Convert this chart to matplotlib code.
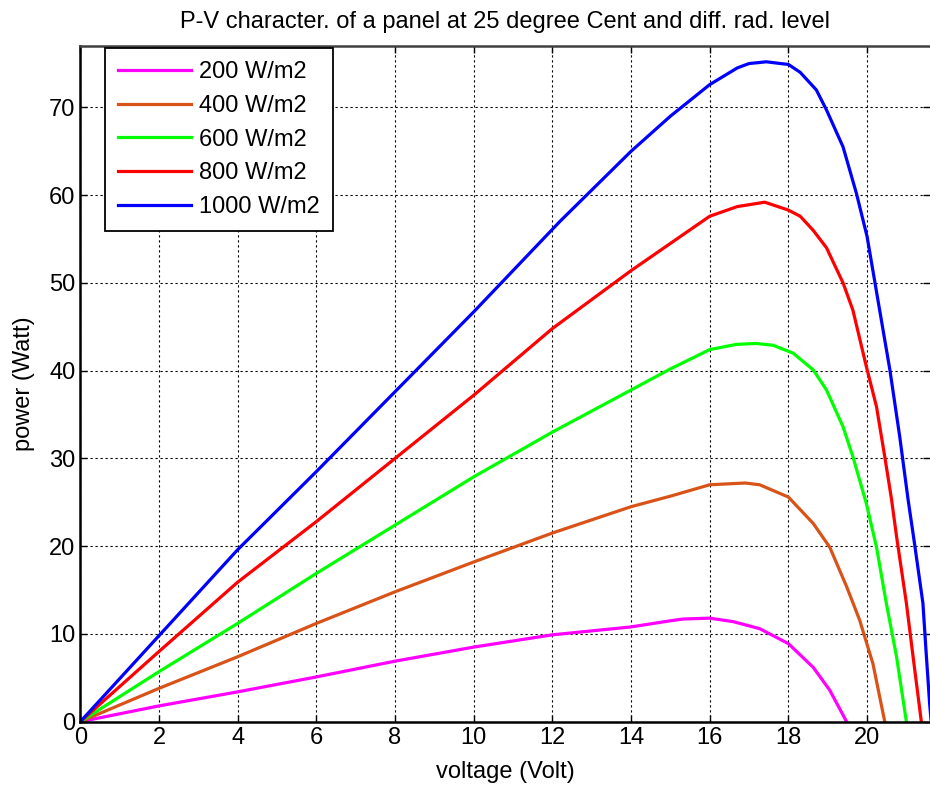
import matplotlib
matplotlib.use("Agg")
import matplotlib.pyplot as plt

# values
v_200 = [0, 2, 4, 6, 8, 10, 12, 14, 15, 15.32, 16, 16.6, 17.27, 18, 18.63, 19.05, 19.48]
p_200 = [0, 1.8, 3.4, 5.1, 6.9, 8.5, 9.9, 10.8, 11.5, 11.7, 11.8, 11.4, 10.6, 8.9, 6.2, 3.6, 0]

v_400 = [0, 2, 4, 6, 8, 10, 12, 14, 15, 16, 16.9, 17.27, 18, 18.63, 19.05, 19.48, 19.81, 20.15, 20.45]
p_400 = [0, 3.8, 7.4, 11.2, 14.8, 18.2, 21.5, 24.5, 25.7, 27.0, 27.2, 27.0, 25.6, 22.6, 19.9, 15.4, 11.6, 6.6, 0]

v_600 = [0, 2, 4, 6, 8, 10, 12, 14, 15, 16, 16.68, 17.19, 17.61, 18.12, 18.63, 18.97,
         19.39, 19.64, 19.98, 20.24, 20.49, 20.75, 21.0]
p_600 = [0, 5.7, 11.2, 16.9, 22.4, 27.9, 33.0, 37.8, 40.2, 42.4, 43.0, 43.1, 42.9, 42.0, 40.1, 37.8,
         33.6, 30.2, 24.9, 19.9, 13.5, 7.4, 0]

v_800 = [0, 2, 4, 6, 8, 10, 12, 14, 15, 16, 16.7, 17.4, 18, 18.3, 18.63, 18.97, 19.39, 19.64,
         19.98, 20.24, 20.45, 20.62, 20.75, 21.0, 21.17, 21.38]
p_800 = [0, 8.0, 15.9, 22.8, 30.0, 37.2, 44.8, 51.4, 54.5, 57.6, 58.7, 59.2, 58.3, 57.6, 56.0, 54.0, 50.0, 46.9,
         40.5, 35.9, 30.2, 25.4, 21.1, 13.5, 7.4, 0]

v_1000 = [0, 2, 4, 6, 8, 10, 12.19, 14, 15, 16, 16.7, 17.0, 17.44, 17.8, 18, 18.3, 18.71, 18.97,
          19.39, 19.73, 20.0, 20.32, 20.58, 20.83, 21.04, 21.2, 21.42, 21.5, 21.59, 21.63]
p_1000 = [0, 9.8, 19.6, 28.5, 37.6, 46.7, 57.0, 65.0, 69.0, 72.6, 74.5, 75.0, 75.2, 75.0, 74.9, 74.0, 72.0, 69.7,
          65.5, 60.2, 55.3, 46.9, 40.1, 32.5, 25.4, 20.5, 13.5, 8.0, 2.1, 0]

labels = ['200 W/m2', '400 W/m2', '600 W/m2', '800 W/m2', '1000 W/m2']
colors = ['#ff00ff', '#d95319', '#00ff00', '#ff0000', '#0000ff']

plt.rcParams['font.family'] = ['Liberation Sans', 'DejaVu Sans']

fig = plt.figure(figsize=(9.3, 7.89), dpi=100)
ax = fig.add_axes([80.3 / 930, (789 - 721.7) / 789, 1 - 80.3 / 930, (721.7 - 46) / 789])

series = [(v_200, p_200), (v_400, p_400), (v_600, p_600), (v_800, p_800), (v_1000, p_1000)]
for (v, p), lab, col in zip(series, labels, colors):
    ax.plot(v, p, color=col, lw=2.3, label=lab, solid_joinstyle='round')

ax.set_xlim(0, 21.6)
ax.set_ylim(0, 77)
ax.set_xticks(range(0, 21, 2))
ax.set_yticks(range(0, 71, 10))
ax.grid(True, color='k', linestyle=(0, (2, 2.5)), lw=0.8)
ax.tick_params(direction='in', length=5, width=1, top=True, right=True, labelsize=17)
for s in ['left', 'bottom']:
    ax.spines[s].set_linewidth(1.8)
    ax.spines[s].set_color('k')
ax.spines['top'].set_linewidth(1.8)
ax.spines['top'].set_color('#404040')
ax.spines['right'].set_visible(False)

ax.set_title('P-V character. of a panel at 25 degree Cent and diff. rad. level',
             fontsize=17, pad=13)
ax.set_xlabel('voltage (Volt)', fontsize=17, labelpad=9)
ax.set_ylabel('power (Watt)', fontsize=17, labelpad=10)

leg = ax.legend(loc='upper left', bbox_to_anchor=(0.029, 0.997), borderaxespad=0, fontsize=17,
                fancybox=False, framealpha=1, edgecolor='k', handlelength=3.1, handletextpad=0.35,
                labelspacing=0.5, borderpad=0.55)
leg.get_frame().set_linewidth(1.3)

fig.savefig('out.png', dpi=100)
